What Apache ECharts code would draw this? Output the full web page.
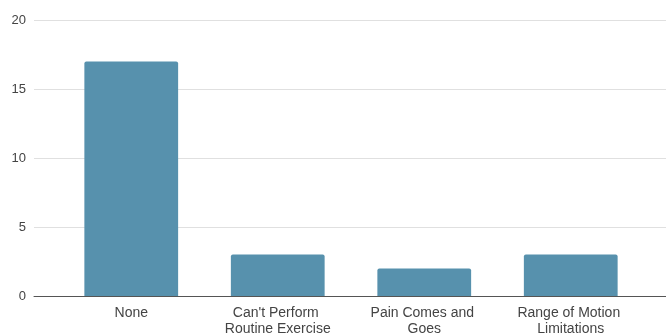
<!DOCTYPE html>
<html>
<head>
<meta charset="utf-8">
<script src="https://cdn.jsdelivr.net/npm/echarts@6/dist/echarts.min.js"></script>
<style>
  html, body { margin: 0; padding: 0; background: #fff; }
  #chart { width: 666px; height: 335px; }
</style>
</head>
<body>
<div id="chart"></div>
<script>
// Responses by limitation type
const categories = ['None', "Can't Perform Routine Exercise", 'Pain Comes and Goes', 'Range of Motion Limitations'];
const counts = [17, 3, 2, 3];
const yTicks = { min: 0, max: 20, interval: 5 };

const FONT = '"Liberation Sans", Arial, sans-serif';

const chart = echarts.init(document.getElementById('chart'), null, { renderer: 'canvas' });
chart.setOption({
  animation: false,
  backgroundColor: '#ffffff',
  grid: [
    // full-width frame for gridlines and baseline
    { left: 34, right: 0, top: 20, bottom: 39, outerBoundsMode: 'none' },
    // inner area holding the bars
    { left: 58, right: 22, top: 20, bottom: 39, outerBoundsMode: 'none' }
  ],
  xAxis: [
    {
      gridIndex: 0, type: 'category', data: [''],
      axisLine: { show: true, lineStyle: { color: '#555555', width: 1 } },
      axisTick: { show: false }, axisLabel: { show: false }
    },
    {
      gridIndex: 1, type: 'category', data: categories,
      axisLine: { show: false }, axisTick: { show: false },
      axisLabel: {
        color: '#444444', fontSize: 14, fontFamily: FONT,
        margin: 9, lineHeight: 16, width: 120, overflow: 'break', interval: 0
      }
    }
  ],
  yAxis: [
    {
      gridIndex: 0, type: 'value', min: yTicks.min, max: yTicks.max, interval: yTicks.interval,
      axisLine: { show: false }, axisTick: { show: false },
      splitLine: { lineStyle: { color: '#e0e0e0', width: 1 } },
      axisLabel: { color: '#444444', fontSize: 13, fontFamily: FONT, margin: 8 }
    },
    {
      gridIndex: 1, type: 'value', min: yTicks.min, max: yTicks.max, interval: yTicks.interval,
      show: false
    }
  ],
  series: [{
    type: 'bar',
    xAxisIndex: 1, yAxisIndex: 1,
    data: counts,
    barCategoryGap: '36%',
    itemStyle: { color: '#5791ad', borderRadius: [2, 2, 0, 0] }
  }]
});
</script>
</body>
</html>
